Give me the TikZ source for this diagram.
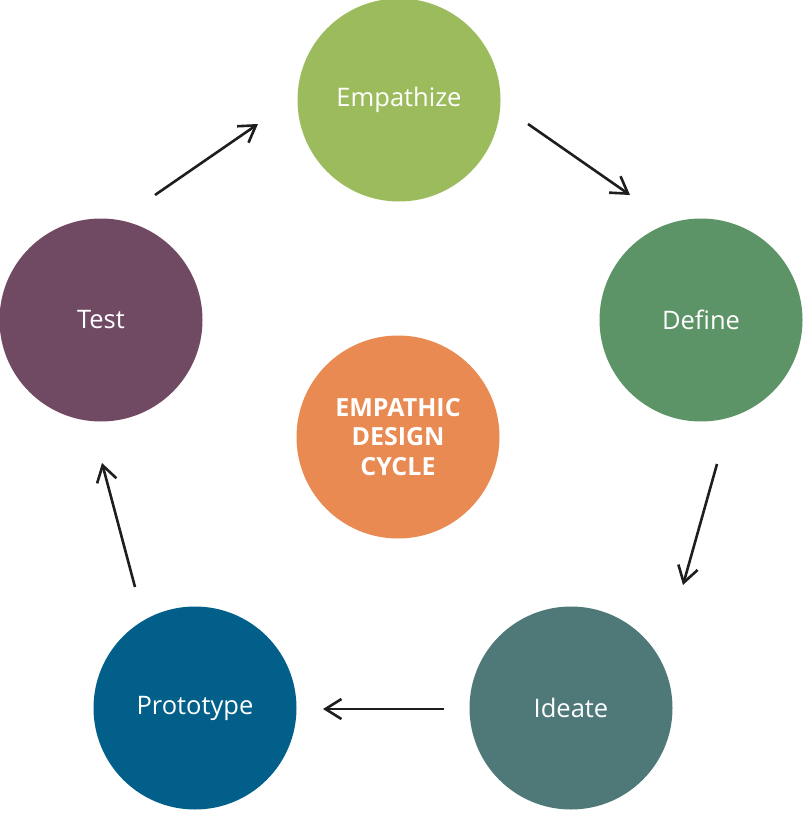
\documentclass[tikz,border=0pt]{standalone}
\usepackage{fontspec}
\setmainfont{Open Sans}
\usetikzlibrary{arrows.meta}
\definecolor{cEmp}{HTML}{9BBB5C}
\definecolor{cDef}{HTML}{5C9467}
\definecolor{cIde}{HTML}{4E7978}
\definecolor{cPro}{HTML}{025F8A}
\definecolor{cTes}{HTML}{6F4A62}
\definecolor{cCen}{HTML}{E88A51}
\definecolor{cArr}{HTML}{1E1E1E}
\tikzset{
  stage/.style={circle, minimum size=203pt, inner sep=0pt, text=white, font=\fontsize{25.5}{30}\selectfont},
  hub/.style={circle, minimum size=203pt, inner sep=0pt, text=white, align=center, font=\bfseries\fontsize{25}{29.5}\selectfont},
  flow/.style={draw=cArr, line width=2.6pt, -{Straight Barb[length=16pt,width=20pt,line width=2.6pt]}}
}
\begin{document}
\begin{tikzpicture}[x=1pt,y=-1pt]
\useasboundingbox (0,0) rectangle (805,813);
\node[stage, fill=cEmp] (emp) at (399,100) {Empathize};
\node[stage, fill=cDef] (def) at (701,320) {Define};
\node[stage, fill=cIde] (ide) at (571,708) {Ideate};
\node[stage, fill=cPro] (pro) at (195,708) {Prototype};
\node[stage, fill=cTes] (tes) at (101,320) {Test};
\node[hub, fill=cCen] (hub) at (398,437) {EMPATHIC\\DESIGN\\CYCLE};
\coordinate (a1s) at (528,124); \coordinate (a1e) at (630,195);
\coordinate (a2s) at (717,464); \coordinate (a2e) at (683,585);
\coordinate (a3s) at (444,709); \coordinate (a3e) at (323,709);
\coordinate (a4s) at (135,587); \coordinate (a4e) at (102,463);
\coordinate (a5s) at (155,195); \coordinate (a5e) at (258,124);
\draw[flow] (a1s) -- (a1e);
\draw[flow] (a2s) -- (a2e);
\draw[flow] (a3s) -- (a3e);
\draw[flow] (a4s) -- (a4e);
\draw[flow] (a5s) -- (a5e);
\end{tikzpicture}
\end{document}
